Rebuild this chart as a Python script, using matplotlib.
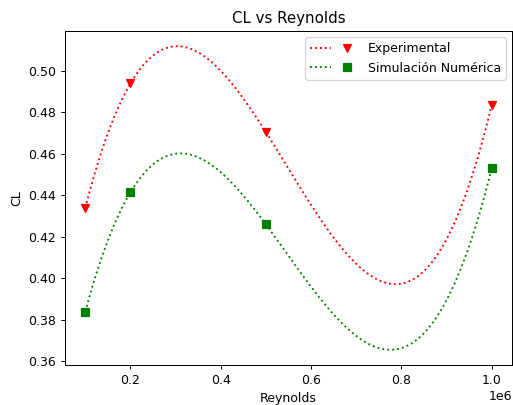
import numpy as np
import matplotlib
matplotlib.use("Agg")
import matplotlib.pyplot as plt
from matplotlib.legend_handler import HandlerTuple

reynolds = [1e5, 2e5, 5e5, 1e6]
cl_exp = [0.434, 0.494, 0.4705, 0.4835]
cl_num = [0.384, 0.4415, 0.426, 0.453]

fig = plt.figure(figsize=(5.7, 4.5), dpi=90)
fig.subplots_adjust(left=65/513, right=512/513, top=1-31/405, bottom=1-365/405)
ax = fig.add_subplot(111)

# ajuste polinomico de grado 3
x_fit = np.linspace(min(reynolds), max(reynolds), 300)
p_exp = np.polyfit(reynolds, cl_exp, 3)
p_num = np.polyfit(reynolds, cl_num, 3)

l1, = ax.plot(x_fit, np.polyval(p_exp, x_fit), ':', color='red')
m1, = ax.plot(reynolds, cl_exp, 'v', color='red', linestyle='none', markersize=7)
l2, = ax.plot(x_fit, np.polyval(p_num, x_fit), ':', color='green')
m2, = ax.plot(reynolds, cl_num, 's', color='green', linestyle='none', markersize=6)

ax.legend([(l1, m1), (l2, m2)], ['Experimental', 'Simulación Numérica'],
          handler_map={tuple: HandlerTuple(ndivide=None)}, handlelength=3.8)
ax.set_title('CL vs Reynolds')
ax.set_xlabel('Reynolds')
ax.set_ylabel('CL')

fig.savefig('out.png', dpi=90)
